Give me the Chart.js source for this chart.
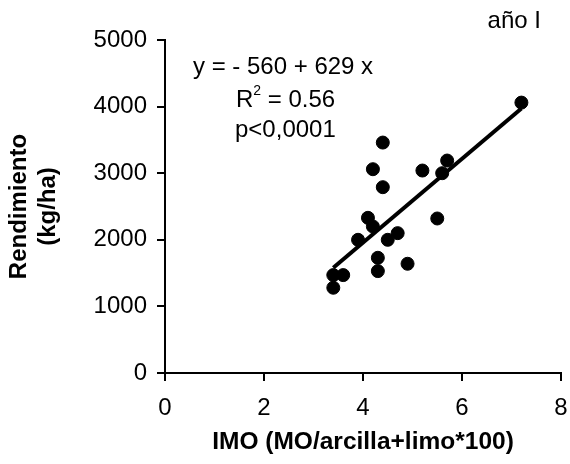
<!DOCTYPE html>
<html>
<head>
<meta charset="utf-8">
<script src="https://cdn.jsdelivr.net/npm/chart.js@4.4.1/dist/chart.umd.min.js"></script>
<style>
  html, body { margin: 0; padding: 0; background: #fff; }
  #wrap { width: 570px; height: 464px; }
</style>
</head>
<body>
<div id="wrap"><canvas id="chart" width="570" height="464"></canvas></div>
<script>
// IMO values (x) and yield (kg/ha)
const imoValues   = [7.2, 4.4, 4.2, 5.2, 5.7, 5.6, 4.4, 4.1, 4.2, 3.9, 4.5, 4.7, 5.5, 4.3, 4.3, 4.9, 3.4, 3.6, 3.4];
const yieldValues = [4060, 3460, 3060, 3040, 3190, 3000, 2790, 2330, 2200, 2000, 2000, 2100, 2320, 1730, 1530, 1640, 1470, 1470, 1280];

// fitted line y = -560 + 629 x, ends
const fitX = [3.4, 7.2];
const fitY = [1580, 3970];

const xTicks = [0, 2, 4, 6, 8];
const yTicks = [0, 1000, 2000, 3000, 4000, 5000];

const FONT = "'Liberation Sans', Arial, sans-serif";

// equation, R2, p and "año I" labels
const notesPlugin = {
  id: 'notes',
  afterDraw(chart) {
    const ctx = chart.ctx;
    const a = chart.chartArea;
    ctx.save();
    ctx.fillStyle = '#000';
    ctx.textBaseline = 'alphabetic';
    ctx.textAlign = 'left';
    ctx.font = '24px ' + FONT;
    ctx.fillText('y = - 560 + 629 x', a.left + 28, a.top + 34);
    ctx.fillText('R', a.left + 71, a.top + 67);
    let w = ctx.measureText('R').width;
    ctx.font = '14px ' + FONT;
    ctx.fillText('2', a.left + 71 + w, a.top + 55);
    let w2 = ctx.measureText('2').width;
    ctx.font = '24px ' + FONT;
    ctx.fillText(' = 0.56', a.left + 71 + w + w2, a.top + 67);
    ctx.fillText('p<0,0001', a.left + 70, a.top + 97);
    ctx.textAlign = 'right';
    ctx.fillText('año I', a.right - 20, a.top - 12);
    ctx.restore();
  }
};

const ctx = document.getElementById('chart').getContext('2d');
new Chart(ctx, {
  type: 'scatter',
  data: {
    datasets: [
      {
        type: 'line',
        data: fitX.map((x, i) => ({ x: x, y: fitY[i] })),
        borderColor: '#000',
        borderWidth: 4,
        pointRadius: 0,
        fill: false
      },
      {
        data: imoValues.map((x, i) => ({ x: x, y: yieldValues[i] })),
        backgroundColor: '#000',
        borderColor: '#000',
        pointRadius: 6.5,
        pointHoverRadius: 6.5
      }
    ]
  },
  options: {
    responsive: false,
    animation: false,
    events: [],
    layout: { padding: { top: 40, right: 9, left: 0, bottom: 0 } },
    plugins: {
      legend: { display: false },
      tooltip: { enabled: false }
    },
    scales: {
      x: {
        type: 'linear',
        min: 0,
        max: 8,
        afterBuildTicks: (s) => { s.ticks = xTicks.map(v => ({ value: v })); },
        afterFit: (s) => { s.height = 91; s.paddingLeft = 0; s.paddingRight = 0; },
        ticks: { color: '#000', font: { family: FONT, size: 24 }, padding: 13, callback: (v) => String(v) },
        grid: { display: true, drawOnChartArea: false, drawTicks: true, tickLength: 8, color: '#000', lineWidth: 2 },
        border: { display: true, color: '#000', width: 2 },
        title: {
          display: true,
          text: 'IMO (MO/arcilla+limo*100)',
          color: '#000',
          font: { family: FONT, size: 24.5, weight: 'bold' },
          padding: { top: 0, bottom: 7 }
        }
      },
      y: {
        type: 'linear',
        min: 0,
        max: 5000,
        afterBuildTicks: (s) => { s.ticks = yTicks.map(v => ({ value: v })); },
        afterFit: (s) => { s.width = 165; },
        ticks: { color: '#000', font: { family: FONT, size: 24 }, padding: 10, callback: (v) => String(v) },
        grid: { display: true, drawOnChartArea: false, drawTicks: true, tickLength: 8, color: '#000', lineWidth: 2 },
        border: { display: true, color: '#000', width: 2 },
        title: {
          display: true,
          text: ['Rendimiento', '(kg/ha)'],
          color: '#000',
          font: { family: FONT, size: 24, weight: 'bold', lineHeight: 1.2 },
          padding: { top: 5, bottom: 0 }
        }
      }
    }
  },
  plugins: [notesPlugin]
});
</script>
</body>
</html>
